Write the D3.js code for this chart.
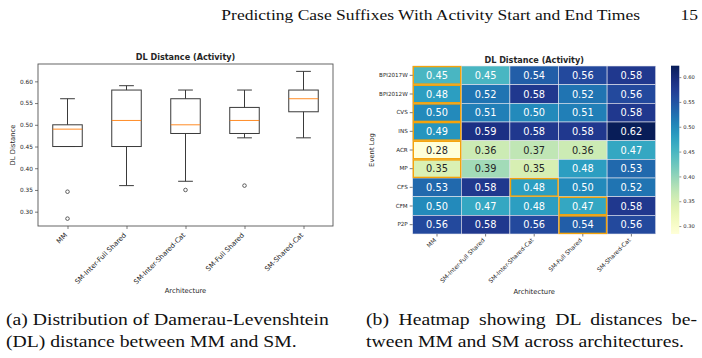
<!DOCTYPE html>
<html>
<head>
<meta charset="utf-8">
<script src="https://cdn.jsdelivr.net/npm/d3@7"></script>
<style>
  body { margin: 0; background: #fff; }
  svg { display: block; }
  .chart text { font-family: "DejaVu Sans", sans-serif; fill: #262626; }
  .paper { font-family: "Liberation Serif", "DejaVu Serif", serif; fill: #111; }
</style>
</head>
<body>
<div id="fig"></div>
<script>
// event logs (heatmap rows) and architectures (columns / boxes)
const eventLogs = ["BPI2017W", "BPI2012W", "CVS", "INS", "ACR", "MP", "CFS", "CFM", "P2P"];
const architectures = ["MM", "SM-Inter-Full Shared", "SM-Inter-Shared-Cat", "SM-Full Shared", "SM-Shared-Cat"];

// DL distance per event log, one value per architecture
const dlDistance = [
  [0.45, 0.45, 0.54, 0.56, 0.58],
  [0.48, 0.52, 0.58, 0.52, 0.56],
  [0.50, 0.51, 0.50, 0.51, 0.58],
  [0.49, 0.59, 0.58, 0.58, 0.623],
  [0.284, 0.36, 0.37, 0.36, 0.47],
  [0.346, 0.39, 0.35, 0.48, 0.53],
  [0.53, 0.58, 0.48, 0.50, 0.52],
  [0.50, 0.47, 0.48, 0.47, 0.58],
  [0.56, 0.58, 0.56, 0.54, 0.56]
];
// column outlined in orange for each event log
const bestArch = [0, 0, 0, 0, 0, 0, 2, 3, 3];

const boxTicks = [0.30, 0.35, 0.40, 0.45, 0.50, 0.55, 0.60];
const barTicks = [0.30, 0.35, 0.40, 0.45, 0.50, 0.55, 0.60];

const W = 702, H = 358;
const svg = d3.select("#fig").append("svg").attr("width", W).attr("height", H);

// serif text, stretched a bit to get Computer Modern like widths.
// justifyTo: stretch the word spacing so the line ends at that x.
const STRETCH = 1.2;
function paperText(str, x, y, size, anchor, justifyTo) {
  const t = svg.append("text").attr("class", "paper")
    .attr("transform", `translate(${x},${y}) scale(${STRETCH},1)`)
    .attr("text-anchor", anchor || "start")
    .style("font-size", size + "px").text(str);
  if (justifyTo) {
    const natural = t.node().getComputedTextLength() * STRETCH;
    const gaps = str.split(" ").length - 1;
    const extra = (justifyTo - x - natural) / STRETCH / gaps;
    if (extra > 0) t.style("word-spacing", extra + "px");
  }
  return t;
}

// page header
paperText("Predicting Case Suffixes With Activity Start and End Times", 640, 20, 14.6, "end");
paperText("15", 698, 20, 14.6, "end");

// captions
paperText("(a) Distribution of Damerau-Levenshtein", 6, 325, 16.4, "start", 328);
paperText("(DL) distance between MM and SM.", 6, 347, 16.4, "start");
paperText("(b) Heatmap showing DL distances be-", 366, 325, 16.4, "start", 697);
paperText("tween MM and SM across architectures.", 366, 347, 16.4, "start");

const fmt = d3.format(".2f");
const chart = svg.append("g").attr("class", "chart");

// rotated tick labels, top-right corner just under the tick
function slantLabels(axisG, size, gap) {
  const cap = size * 0.73;
  axisG.selectAll("text").style("font-size", size + "px").attr("fill", "#262626")
    .attr("text-anchor", "end").attr("dy", null).attr("x", 0).attr("y", 0)
    .attr("transform", `translate(-0.3,${gap + cap * 0.707}) rotate(-45)`);
}

// ---------- (a) boxplot ----------
const bx = {x0: 38, x1: 333, y0: 64, y1: 226};
const columns = architectures.map((a, j) => dlDistance.map(r => r[j]));
const allVals = columns.flat();
const [vmin, vmax] = d3.extent(allVals);
const pad = (vmax - vmin) * 0.05;

const xBox = d3.scalePoint().domain(architectures).range([bx.x0, bx.x1]).padding(0.5);
const yBox = d3.scaleLinear().domain([vmin - pad, vmax + pad]).range([bx.y1, bx.y0]);

const stats = columns.map((vals, j) => {
  const s = vals.slice().sort(d3.ascending);
  const q1 = d3.quantile(s, 0.25), med = d3.quantile(s, 0.5), q3 = d3.quantile(s, 0.75);
  const iqr = q3 - q1;
  const lo = d3.min(s.filter(v => v >= q1 - 1.5 * iqr));
  const hi = d3.max(s.filter(v => v <= q3 + 1.5 * iqr));
  const out = s.filter(v => v < lo || v > hi);
  return {name: architectures[j], q1, med, q3, lo, hi, out};
});

const gA = chart.append("g");
const boxW = xBox.step() * 0.5;
const lineCol = "#3a3a3a";

stats.forEach(s => {
  const cx = xBox(s.name);
  const g = gA.append("g").attr("stroke", lineCol).attr("stroke-width", 1).attr("fill", "none");
  g.append("line").attr("x1", cx).attr("x2", cx).attr("y1", yBox(s.q3)).attr("y2", yBox(s.hi));
  g.append("line").attr("x1", cx).attr("x2", cx).attr("y1", yBox(s.q1)).attr("y2", yBox(s.lo));
  g.append("line").attr("x1", cx - boxW / 4).attr("x2", cx + boxW / 4).attr("y1", yBox(s.hi)).attr("y2", yBox(s.hi));
  g.append("line").attr("x1", cx - boxW / 4).attr("x2", cx + boxW / 4).attr("y1", yBox(s.lo)).attr("y2", yBox(s.lo));
  g.append("rect").attr("x", cx - boxW / 2).attr("width", boxW)
    .attr("y", yBox(s.q3)).attr("height", yBox(s.q1) - yBox(s.q3));
  g.append("line").attr("stroke", "#ff7f0e").attr("stroke-width", 0.9)
    .attr("x1", cx - boxW / 2).attr("x2", cx + boxW / 2).attr("y1", yBox(s.med)).attr("y2", yBox(s.med));
  s.out.forEach(v => {
    g.append("circle").attr("cx", cx).attr("cy", yBox(v)).attr("r", 1.8).attr("stroke-width", 0.8);
  });
});

gA.append("rect").attr("x", bx.x0).attr("y", bx.y0)
  .attr("width", bx.x1 - bx.x0).attr("height", bx.y1 - bx.y0)
  .attr("fill", "none").attr("stroke", "#555").attr("stroke-width", 0.9);

const yAxA = gA.append("g").attr("transform", `translate(${bx.x0},0)`)
  .call(d3.axisLeft(yBox).tickValues(boxTicks).tickFormat(fmt).tickSize(3).tickPadding(2));
yAxA.select(".domain").remove();
yAxA.selectAll("line").attr("stroke", "#444").attr("stroke-width", 0.7);
yAxA.selectAll("text").style("font-size", "5.8px").attr("fill", "#262626");

const xAxA = gA.append("g").attr("transform", `translate(0,${bx.y1})`)
  .call(d3.axisBottom(xBox).tickSize(3));
xAxA.select(".domain").remove();
xAxA.selectAll("line").attr("stroke", "#444").attr("stroke-width", 0.7);
slantLabels(xAxA, 6.9, 6);

gA.append("text").attr("x", (bx.x0 + bx.x1) / 2).attr("y", 60)
  .attr("text-anchor", "middle").style("font-size", "8.1px").style("font-weight", "bold")
  .text("DL Distance (Activity)");
gA.append("text").attr("transform", `translate(15,${(bx.y0 + bx.y1) / 2}) rotate(-90)`)
  .attr("text-anchor", "middle").style("font-size", "6.8px").text("DL Distance");
gA.append("text").attr("x", (bx.x0 + bx.x1) / 2).attr("y", 293)
  .attr("text-anchor", "middle").style("font-size", "6.8px").text("Architecture");

// ---------- (b) heatmap ----------
const hm = {x0: 412.7, x1: 655.7, y0: 66, y1: 234};
const xHm = d3.scaleBand().domain(architectures).range([hm.x0, hm.x1]);
const yHm = d3.scaleBand().domain(eventLogs).range([hm.y0, hm.y1]);
const color = d3.scaleSequential(d3.interpolateYlGnBu).domain([vmin, vmax]);

function lum(c) {
  const rgb = d3.rgb(c);
  const f = v => { v /= 255; return v <= 0.03928 ? v / 12.92 : Math.pow((v + 0.055) / 1.055, 2.4); };
  return 0.2126 * f(rgb.r) + 0.7152 * f(rgb.g) + 0.0722 * f(rgb.b);
}

const cells = [];
eventLogs.forEach((ev, i) => architectures.forEach((a, j) => cells.push({ev, a, i, j, v: dlDistance[i][j]})));

const gB = chart.append("g");
gB.selectAll("rect.cell").data(cells).enter().append("rect")
  .attr("class", "cell")
  .attr("x", d => xHm(d.a)).attr("y", d => yHm(d.ev))
  .attr("width", xHm.bandwidth()).attr("height", yHm.bandwidth())
  .attr("fill", d => color(d.v))
  .attr("stroke", "#e6e6ee").attr("stroke-width", 0.6);

gB.selectAll("text.val").data(cells).enter().append("text")
  .attr("class", "val")
  .attr("x", d => xHm(d.a) + xHm.bandwidth() / 2)
  .attr("y", d => yHm(d.ev) + yHm.bandwidth() / 2)
  .attr("dy", "0.36em").attr("text-anchor", "middle")
  .style("font-size", "9.8px")
  .style("fill", d => lum(color(d.v)) > 0.408 ? "#262626" : "#fff")
  .text(d => fmt(d.v));

gB.selectAll("rect.best").data(bestArch).enter().append("rect")
  .attr("class", "best")
  .attr("x", (j, i) => xHm(architectures[j]) + 0.6)
  .attr("y", (j, i) => yHm(eventLogs[i]) + 0.6)
  .attr("width", xHm.bandwidth() - 1.2).attr("height", yHm.bandwidth() - 1.2)
  .attr("fill", "none").attr("stroke", "#f5a30a").attr("stroke-width", 1.4);

const yAxB = gB.append("g").attr("transform", `translate(${hm.x0},0)`)
  .call(d3.axisLeft(yHm).tickSize(3).tickPadding(2));
yAxB.select(".domain").remove();
yAxB.selectAll("line").attr("stroke", "#444").attr("stroke-width", 0.7);
yAxB.selectAll("text").style("font-size", "5.6px").attr("fill", "#262626");

const xAxB = gB.append("g").attr("transform", `translate(0,${hm.y1})`)
  .call(d3.axisBottom(xHm).tickSize(2.5));
xAxB.select(".domain").remove();
xAxB.selectAll("line").attr("stroke", "#444").attr("stroke-width", 0.7);
slantLabels(xAxB, 6, 3.5);

gB.append("text").attr("x", (hm.x0 + hm.x1) / 2).attr("y", 63)
  .attr("text-anchor", "middle").style("font-size", "8.1px").style("font-weight", "bold")
  .text("DL Distance (Activity)");
gB.append("text").attr("transform", `translate(374,${(hm.y0 + hm.y1) / 2}) rotate(-90)`)
  .attr("text-anchor", "middle").style("font-size", "6.8px").text("Event Log");
gB.append("text").attr("x", (hm.x0 + hm.x1) / 2).attr("y", 294)
  .attr("text-anchor", "middle").style("font-size", "6.8px").text("Architecture");

// colorbar
const cb = {x0: 671, x1: 679.3, y0: 65.7, y1: 234};
const yCb = d3.scaleLinear().domain([vmin, vmax]).range([cb.y1, cb.y0]);
const grad = svg.append("defs").append("linearGradient").attr("id", "cbar")
  .attr("x1", 0).attr("y1", 1).attr("x2", 0).attr("y2", 0);
d3.range(0, 1.0001, 0.05).forEach(t => {
  grad.append("stop").attr("offset", t).attr("stop-color", d3.interpolateYlGnBu(t));
});
gB.append("rect").attr("x", cb.x0).attr("y", cb.y0)
  .attr("width", cb.x1 - cb.x0).attr("height", cb.y1 - cb.y0)
  .attr("fill", "url(#cbar)");
const cbAx = gB.append("g").attr("transform", `translate(${cb.x1},0)`)
  .call(d3.axisRight(yCb).tickValues(barTicks).tickFormat(fmt).tickSize(2).tickPadding(2));
cbAx.select(".domain").remove();
cbAx.selectAll("line").attr("stroke", "#444").attr("stroke-width", 0.6);
cbAx.selectAll("text").style("font-size", "5.2px").attr("fill", "#262626");
</script>
</body>
</html>
